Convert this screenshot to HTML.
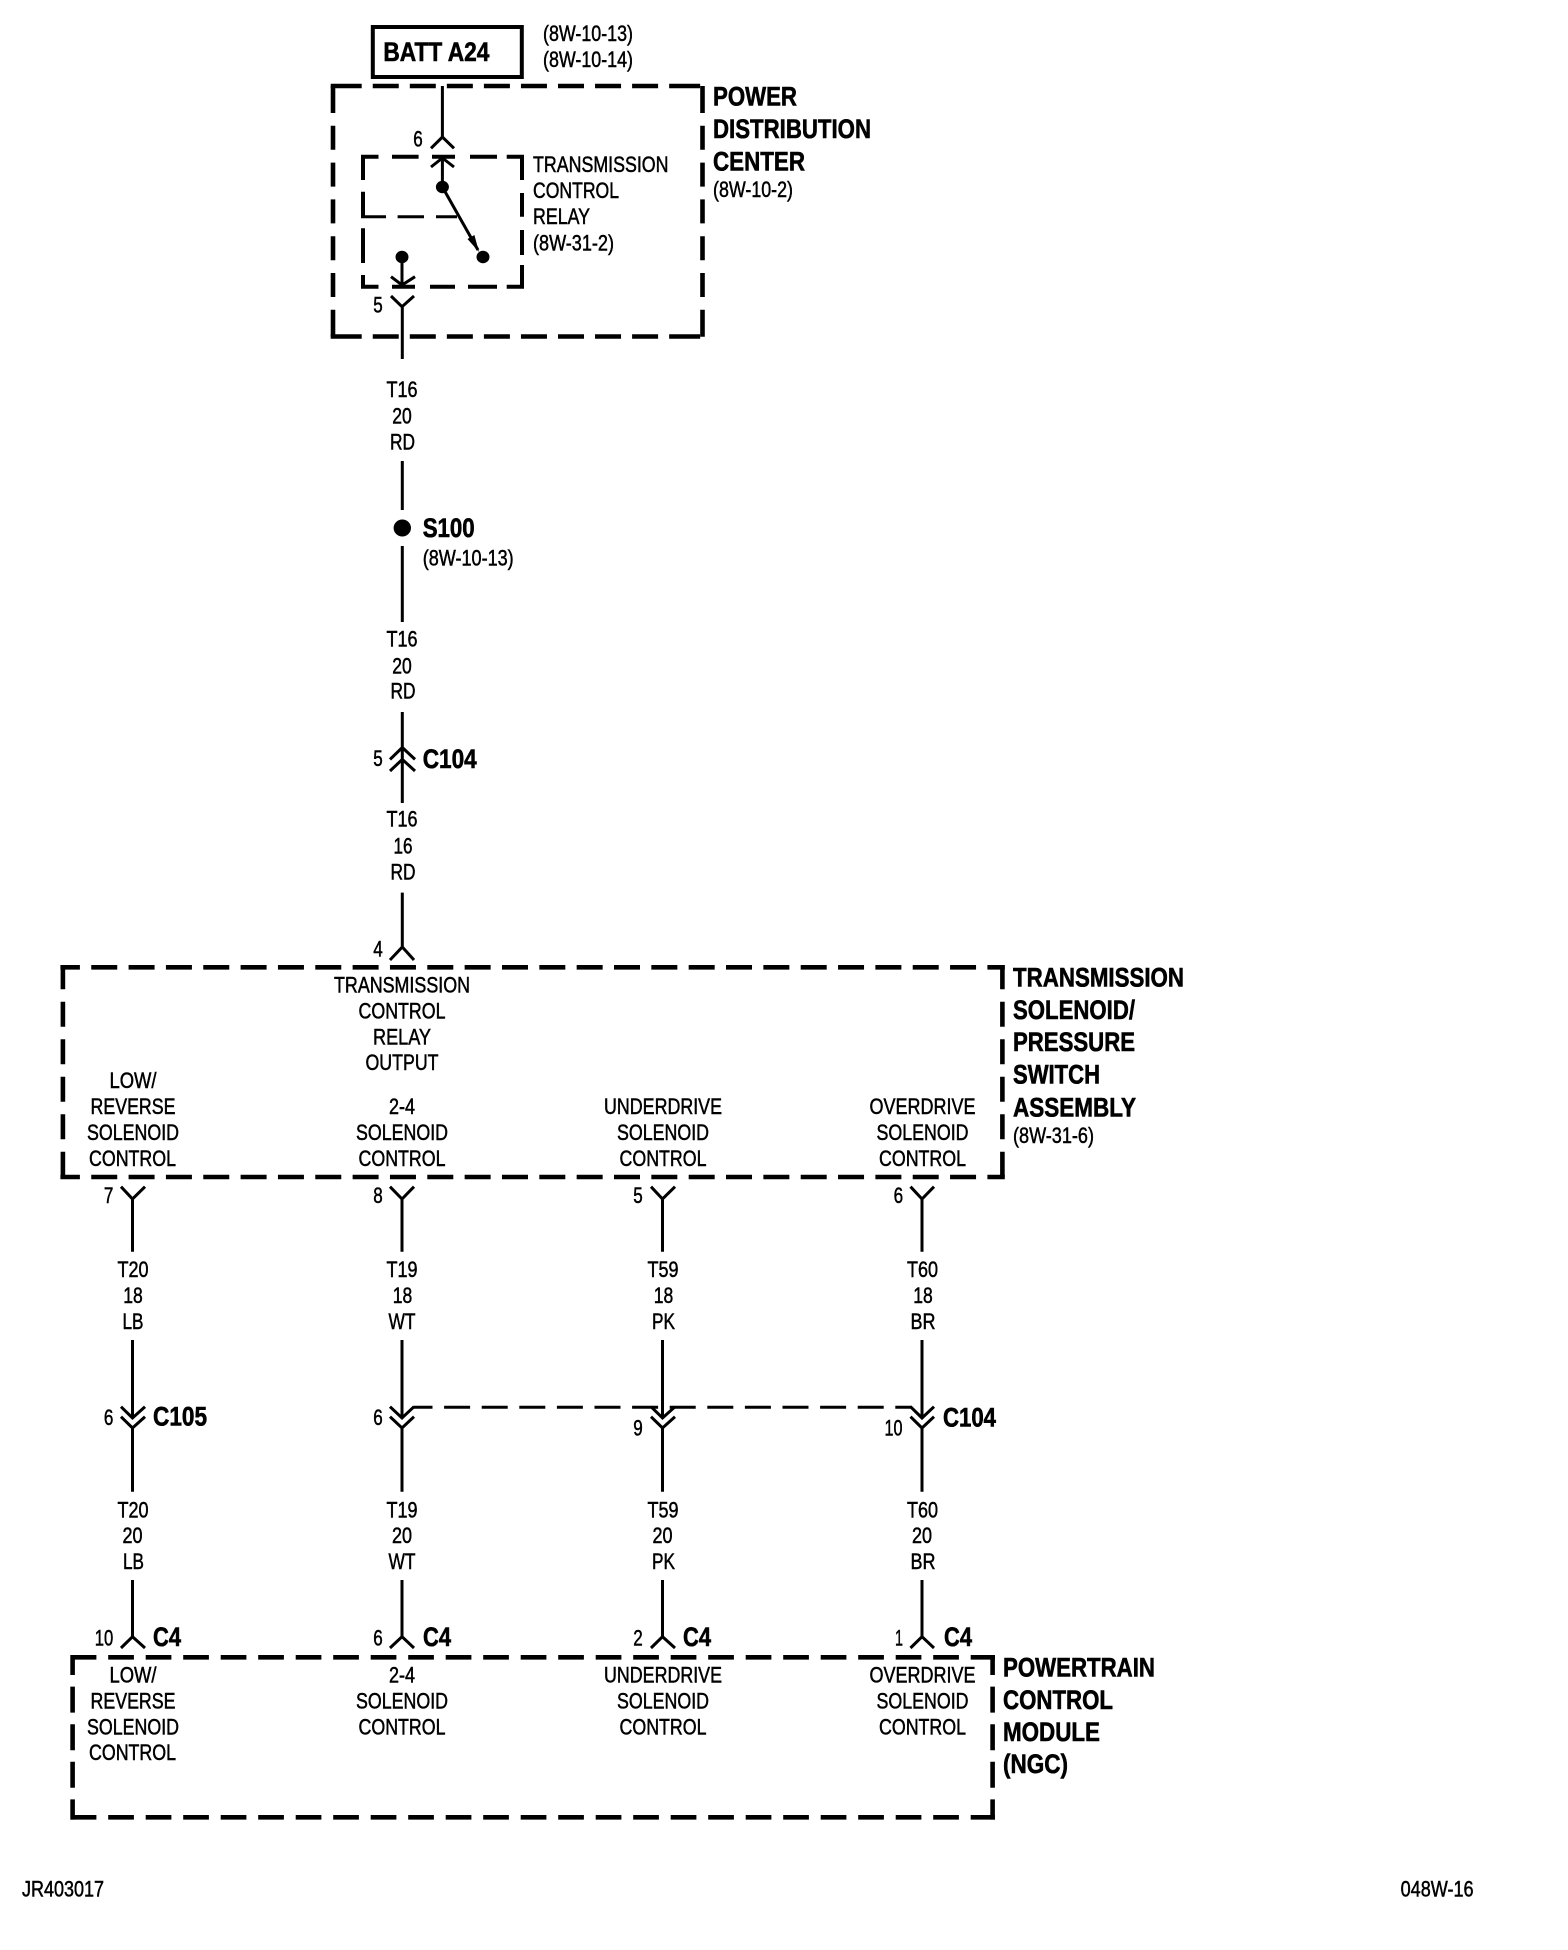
<!DOCTYPE html>
<html><head><meta charset="utf-8"><title>Wiring diagram</title>
<style>
html,body{margin:0;padding:0;background:#fff;width:1568px;height:1950px;overflow:hidden}
svg{display:block}
text{font-family:"Liberation Sans",Arial,sans-serif;font-size:22px;fill:#000;stroke:#000;stroke-width:.5;transform:translateY(-1px)}
.b{font-weight:bold;font-size:27px;stroke-width:.6}
.m{text-anchor:middle}
.w{fill:none;stroke:#000;stroke-width:3}
.d{fill:none;stroke:#000;stroke-width:4.6}
</style></head><body>
<svg xmlns="http://www.w3.org/2000/svg" width="1568" height="1950" viewBox="0 0 1568 1950">
<rect width="1568" height="1950" fill="#fff"/>

<!-- BATT -->
<rect x="372.8" y="27" width="149" height="50" fill="none" stroke="#000" stroke-width="4"/>
<text class="b" x="383.4" y="62" textLength="106" lengthAdjust="spacingAndGlyphs">BATT A24</text>
<text x="543" y="42" textLength="90" lengthAdjust="spacingAndGlyphs">(8W-10-13)</text>
<text x="543" y="68" textLength="90" lengthAdjust="spacingAndGlyphs">(8W-10-14)</text>

<!-- PDC box -->
<path class="d" stroke-dasharray="31 11.05 26 11.05 26 11.05 26 11.05 26 11.05 26 11.05 26 11.05 26 11.05 26 11.05 31 30" d="M330.7 86H704.8"/>
<path class="d" stroke-dasharray="31 11.05 26 11.05 26 11.05 26 11.05 26 11.05 26 11.05 26 11.05 26 11.05 26 11.05 31 30" d="M330.7 336.5H704.8"/>
<path class="d" stroke-dasharray="27 12.8 24 12.8 24 12.8 24 12.8 24 12.8 24 12.8 27 30" d="M333 86V336.7"/>
<path class="d" stroke-dasharray="27 12.8 24 12.8 24 12.8 24 12.8 24 12.8 24 12.8 27 30" d="M702.5 86V336.7"/>
<text class="b" x="713" y="106.7" textLength="84" lengthAdjust="spacingAndGlyphs">POWER</text>
<text class="b" x="713" y="139" textLength="158" lengthAdjust="spacingAndGlyphs">DISTRIBUTION</text>
<text class="b" x="713" y="171.7" textLength="92" lengthAdjust="spacingAndGlyphs">CENTER</text>
<text x="713" y="198" textLength="80" lengthAdjust="spacingAndGlyphs">(8W-10-2)</text>

<!-- Relay box -->
<path fill="none" stroke="#000" stroke-width="4" d="M361 156.7H378.5M392 156.7H418.6M432 156.7H455M470 156.7H497M506.7 156.7H524
M361 286.7H378.5M392 286.7H415M430 286.7H455M468 286.7H497M506.7 286.7H524
M363 155V180M363 191.7V218M363 228.3V263M363 275V288
M522 155V180M522 193V216.7M522 230V255M522 265V288"/>
<path fill="none" stroke="#000" stroke-width="3" d="M361 216.7H386M397.6 216.7H424M436 216.7H457"/>
<text x="533" y="173" textLength="135.5" lengthAdjust="spacingAndGlyphs">TRANSMISSION</text>
<text x="533" y="199" textLength="86" lengthAdjust="spacingAndGlyphs">CONTROL</text>
<text x="533" y="225" textLength="57" lengthAdjust="spacingAndGlyphs">RELAY</text>
<text x="533" y="251.7" textLength="81" lengthAdjust="spacingAndGlyphs">(8W-31-2)</text>

<!-- BATT wire and relay internals -->
<path class="w" d="M442.4 86V137M431 148.3L442.4 137L454 148.3M431 167L442.4 158L454 167M442.4 158V187"/>
<ellipse cx="442.4" cy="187" rx="6.5" ry="6.2"/>
<path class="w" d="M442.4 187L478 250"/>
<polygon points="479,252 474.4,235 467.5,239"/>
<ellipse cx="483" cy="257" rx="6.5" ry="6.2"/>
<ellipse cx="402" cy="257" rx="6.5" ry="6.2"/>
<path class="w" d="M402 257V285M391 276.7L402 285L415 276.7"/>
<path class="w" d="M391 296L402 306.7L414 296M402.3 306.7V359"/>
<text class="m" x="418" y="147.7" textLength="9.5" lengthAdjust="spacingAndGlyphs">6</text>
<text class="m" x="378" y="313.7" textLength="9.5" lengthAdjust="spacingAndGlyphs">5</text>

<!-- Trunk -->
<text class="m" x="402" y="397.8" textLength="31" lengthAdjust="spacingAndGlyphs">T16</text>
<text class="m" x="402" y="424.4" textLength="19.5" lengthAdjust="spacingAndGlyphs">20</text>
<text class="m" x="402.5" y="450.6" textLength="25" lengthAdjust="spacingAndGlyphs">RD</text>
<path class="w" d="M402.3 461V510M402.3 546V622"/>
<ellipse cx="402.3" cy="528" rx="8.7" ry="8.5"/>
<text class="b" x="422.7" y="538" textLength="52" lengthAdjust="spacingAndGlyphs">S100</text>
<text x="422.7" y="566.5" textLength="91" lengthAdjust="spacingAndGlyphs">(8W-10-13)</text>
<text class="m" x="402" y="647.5" textLength="31" lengthAdjust="spacingAndGlyphs">T16</text>
<text class="m" x="402" y="674.5" textLength="19.5" lengthAdjust="spacingAndGlyphs">20</text>
<text class="m" x="403" y="699.5" textLength="25" lengthAdjust="spacingAndGlyphs">RD</text>
<path class="w" d="M402.3 712V803M390 759.4L402.3 747.5L415 759.4M390 771L402.3 759.4L415 771"/>
<text class="m" x="378" y="767" textLength="9.5" lengthAdjust="spacingAndGlyphs">5</text>
<text class="b" x="422.7" y="769" textLength="54" lengthAdjust="spacingAndGlyphs">C104</text>
<text class="m" x="402" y="827.3" textLength="31" lengthAdjust="spacingAndGlyphs">T16</text>
<text class="m" x="403" y="854.3" textLength="19" lengthAdjust="spacingAndGlyphs">16</text>
<text class="m" x="403" y="880.3" textLength="25" lengthAdjust="spacingAndGlyphs">RD</text>
<path class="w" d="M402.3 892.6V947M390 960L402.3 947L414 960"/>
<text class="m" x="378" y="957.5" textLength="9.5" lengthAdjust="spacingAndGlyphs">4</text>

<!-- TS box -->
<path class="d" stroke-dasharray="26 11.34" stroke-dashoffset="6.5" d="M60.4 967.3H1004.8"/>
<path class="d" stroke-dasharray="26 11.34" stroke-dashoffset="6.5" d="M60.4 1177H1004.8"/>
<path class="d" stroke-dasharray="25 12.5" stroke-dashoffset=".7" d="M62.9 965V1179.3"/>
<path class="d" stroke-dasharray="25 12.5" stroke-dashoffset=".7" d="M1002.4 965V1179.3"/>

<text class="m" x="402" y="993.3" textLength="136" lengthAdjust="spacingAndGlyphs">TRANSMISSION</text>
<text class="m" x="402" y="1019.3" textLength="87" lengthAdjust="spacingAndGlyphs">CONTROL</text>
<text class="m" x="402" y="1045.3" textLength="58" lengthAdjust="spacingAndGlyphs">RELAY</text>
<text class="m" x="402" y="1071" textLength="73" lengthAdjust="spacingAndGlyphs">OUTPUT</text>

<text class="m" x="133" y="1089" textLength="47" lengthAdjust="spacingAndGlyphs">LOW/</text>
<text class="m" x="133" y="1115" textLength="85" lengthAdjust="spacingAndGlyphs">REVERSE</text>
<text class="m" x="133" y="1141" textLength="92" lengthAdjust="spacingAndGlyphs">SOLENOID</text>
<text class="m" x="132.5" y="1167" textLength="87" lengthAdjust="spacingAndGlyphs">CONTROL</text>
<text class="m" x="402" y="1115" textLength="26" lengthAdjust="spacingAndGlyphs">2-4</text>
<text class="m" x="402" y="1141" textLength="92" lengthAdjust="spacingAndGlyphs">SOLENOID</text>
<text class="m" x="402" y="1167" textLength="87" lengthAdjust="spacingAndGlyphs">CONTROL</text>
<text class="m" x="663" y="1115" textLength="118" lengthAdjust="spacingAndGlyphs">UNDERDRIVE</text>
<text class="m" x="663" y="1141" textLength="92" lengthAdjust="spacingAndGlyphs">SOLENOID</text>
<text class="m" x="663" y="1167" textLength="87" lengthAdjust="spacingAndGlyphs">CONTROL</text>
<text class="m" x="922.5" y="1115" textLength="106" lengthAdjust="spacingAndGlyphs">OVERDRIVE</text>
<text class="m" x="922.5" y="1141" textLength="92" lengthAdjust="spacingAndGlyphs">SOLENOID</text>
<text class="m" x="922.5" y="1167" textLength="87" lengthAdjust="spacingAndGlyphs">CONTROL</text>

<text class="b" x="1013" y="987.7" textLength="171" lengthAdjust="spacingAndGlyphs">TRANSMISSION</text>
<text class="b" x="1013" y="1020" textLength="122" lengthAdjust="spacingAndGlyphs">SOLENOID/</text>
<text class="b" x="1013" y="1052" textLength="122" lengthAdjust="spacingAndGlyphs">PRESSURE</text>
<text class="b" x="1013" y="1084.3" textLength="87" lengthAdjust="spacingAndGlyphs">SWITCH</text>
<text class="b" x="1013" y="1117.3" textLength="123" lengthAdjust="spacingAndGlyphs">ASSEMBLY</text>
<text x="1013" y="1144" textLength="81" lengthAdjust="spacingAndGlyphs">(8W-31-6)</text>

<!-- Column wires -->
<path class="w" d="M121 1186.7L132.5 1199L145 1186.7M132.5 1199V1251.7M132.5 1340V1418M121 1406.7L132.5 1418L145 1406.7M121 1416.7L132.5 1428L145 1416.7M132.5 1428V1491.7M132.5 1580V1636.7M121 1648L132.5 1636.7L145 1648"/>
<path class="w" d="M390 1186.7L402 1199L414 1186.7M402 1199V1251.7M402 1340V1418M390 1406.7L402 1418L414 1406.7M390 1416.7L402 1428L414 1416.7M402 1428V1491.7M402 1580V1636.7M390 1648L402 1636.7L414 1648"/>
<path class="w" d="M651 1186.7L662.5 1199L675 1186.7M662.5 1199V1251.7M662.5 1340V1418M651 1406.7L662.5 1418L675 1406.7M651 1416.7L662.5 1428L675 1416.7M662.5 1428V1491.7M662.5 1580V1636.7M651 1648L662.5 1636.7L675 1648"/>
<path class="w" d="M910.5 1186.7L922 1199L934 1186.7M922 1199V1251.7M922 1340V1418M910.5 1406.7L922 1418L934 1406.7M910.5 1416.7L922 1428L934 1416.7M922 1428V1491.7M922 1580V1636.7M910.5 1648L922 1636.7L934 1648"/>
<path fill="none" stroke="#000" stroke-width="3" stroke-dasharray="26 11.6" stroke-dashoffset="7" d="M413.5 1407.3H912"/>

<text class="m" x="108.6" y="1204" textLength="9.5" lengthAdjust="spacingAndGlyphs">7</text>
<text class="m" x="378" y="1204" textLength="9.5" lengthAdjust="spacingAndGlyphs">8</text>
<text class="m" x="638" y="1204" textLength="9.5" lengthAdjust="spacingAndGlyphs">5</text>
<text class="m" x="898.4" y="1204" textLength="9.5" lengthAdjust="spacingAndGlyphs">6</text>

<text class="m" x="133" y="1278" textLength="31" lengthAdjust="spacingAndGlyphs">T20</text>
<text class="m" x="133" y="1304" textLength="19.5" lengthAdjust="spacingAndGlyphs">18</text>
<text class="m" x="133" y="1330" textLength="21" lengthAdjust="spacingAndGlyphs">LB</text>
<text class="m" x="402" y="1278" textLength="31" lengthAdjust="spacingAndGlyphs">T19</text>
<text class="m" x="402.5" y="1304" textLength="19.5" lengthAdjust="spacingAndGlyphs">18</text>
<text class="m" x="402" y="1330" textLength="27" lengthAdjust="spacingAndGlyphs">WT</text>
<text class="m" x="663" y="1278" textLength="31" lengthAdjust="spacingAndGlyphs">T59</text>
<text class="m" x="663.5" y="1304" textLength="19.5" lengthAdjust="spacingAndGlyphs">18</text>
<text class="m" x="663.5" y="1330" textLength="23" lengthAdjust="spacingAndGlyphs">PK</text>
<text class="m" x="922.5" y="1278" textLength="31" lengthAdjust="spacingAndGlyphs">T60</text>
<text class="m" x="923" y="1304" textLength="19.5" lengthAdjust="spacingAndGlyphs">18</text>
<text class="m" x="923" y="1330" textLength="25" lengthAdjust="spacingAndGlyphs">BR</text>

<text class="m" x="108.6" y="1426" textLength="9.5" lengthAdjust="spacingAndGlyphs">6</text>
<text class="b" x="153" y="1426.7" textLength="54" lengthAdjust="spacingAndGlyphs">C105</text>
<text class="m" x="378" y="1426" textLength="9.5" lengthAdjust="spacingAndGlyphs">6</text>
<text class="m" x="638" y="1436.7" textLength="9.5" lengthAdjust="spacingAndGlyphs">9</text>
<text class="m" x="893.5" y="1436.7" textLength="18" lengthAdjust="spacingAndGlyphs">10</text>
<text class="b" x="943" y="1427.7" textLength="53" lengthAdjust="spacingAndGlyphs">C104</text>

<text class="m" x="133" y="1518.3" textLength="31" lengthAdjust="spacingAndGlyphs">T20</text>
<text class="m" x="132.5" y="1544" textLength="20" lengthAdjust="spacingAndGlyphs">20</text>
<text class="m" x="133.5" y="1570" textLength="21" lengthAdjust="spacingAndGlyphs">LB</text>
<text class="m" x="402" y="1518.3" textLength="31" lengthAdjust="spacingAndGlyphs">T19</text>
<text class="m" x="402" y="1544" textLength="20" lengthAdjust="spacingAndGlyphs">20</text>
<text class="m" x="402" y="1570" textLength="27" lengthAdjust="spacingAndGlyphs">WT</text>
<text class="m" x="663" y="1518.3" textLength="31" lengthAdjust="spacingAndGlyphs">T59</text>
<text class="m" x="662.5" y="1544" textLength="20" lengthAdjust="spacingAndGlyphs">20</text>
<text class="m" x="663.5" y="1570" textLength="23" lengthAdjust="spacingAndGlyphs">PK</text>
<text class="m" x="922.5" y="1518.3" textLength="31" lengthAdjust="spacingAndGlyphs">T60</text>
<text class="m" x="922" y="1544" textLength="20" lengthAdjust="spacingAndGlyphs">20</text>
<text class="m" x="923" y="1570" textLength="25" lengthAdjust="spacingAndGlyphs">BR</text>

<text class="m" x="104" y="1646.7" textLength="18.5" lengthAdjust="spacingAndGlyphs">10</text>
<text class="b" x="153" y="1647" textLength="28" lengthAdjust="spacingAndGlyphs">C4</text>
<text class="m" x="378" y="1646.7" textLength="9.5" lengthAdjust="spacingAndGlyphs">6</text>
<text class="b" x="423" y="1647" textLength="28" lengthAdjust="spacingAndGlyphs">C4</text>
<text class="m" x="638" y="1646.7" textLength="9.5" lengthAdjust="spacingAndGlyphs">2</text>
<text class="b" x="683" y="1647" textLength="28" lengthAdjust="spacingAndGlyphs">C4</text>
<text class="m" x="899" y="1646.7" textLength="8" lengthAdjust="spacingAndGlyphs">1</text>
<text class="b" x="944" y="1647" textLength="28" lengthAdjust="spacingAndGlyphs">C4</text>

<!-- PCM box -->
<path class="d" stroke-dasharray="25.7 11.8" stroke-dashoffset="-.5" d="M70.2 1657.3H995"/>
<path class="d" stroke-dasharray="25.7 11.8" stroke-dashoffset="-.5" d="M70.2 1817.3H995"/>
<path class="d" stroke-dasharray="26 11.6" stroke-dashoffset="6" d="M72.6 1655V1819.6"/>
<path class="d" stroke-dasharray="26 11.6" stroke-dashoffset="6" d="M992.6 1655V1819.6"/>

<text class="m" x="133" y="1683.3" textLength="47" lengthAdjust="spacingAndGlyphs">LOW/</text>
<text class="m" x="133" y="1709.3" textLength="85" lengthAdjust="spacingAndGlyphs">REVERSE</text>
<text class="m" x="133" y="1735.3" textLength="92" lengthAdjust="spacingAndGlyphs">SOLENOID</text>
<text class="m" x="132.5" y="1761" textLength="87" lengthAdjust="spacingAndGlyphs">CONTROL</text>
<text class="m" x="402" y="1683.3" textLength="26" lengthAdjust="spacingAndGlyphs">2-4</text>
<text class="m" x="402" y="1709.3" textLength="92" lengthAdjust="spacingAndGlyphs">SOLENOID</text>
<text class="m" x="402" y="1735.3" textLength="87" lengthAdjust="spacingAndGlyphs">CONTROL</text>
<text class="m" x="663" y="1683.3" textLength="118" lengthAdjust="spacingAndGlyphs">UNDERDRIVE</text>
<text class="m" x="663" y="1709.3" textLength="92" lengthAdjust="spacingAndGlyphs">SOLENOID</text>
<text class="m" x="663" y="1735.3" textLength="87" lengthAdjust="spacingAndGlyphs">CONTROL</text>
<text class="m" x="922.5" y="1683.3" textLength="106" lengthAdjust="spacingAndGlyphs">OVERDRIVE</text>
<text class="m" x="922.5" y="1709.3" textLength="92" lengthAdjust="spacingAndGlyphs">SOLENOID</text>
<text class="m" x="922.5" y="1735.3" textLength="87" lengthAdjust="spacingAndGlyphs">CONTROL</text>

<text class="b" x="1003" y="1677.3" textLength="152" lengthAdjust="spacingAndGlyphs">POWERTRAIN</text>
<text class="b" x="1003" y="1710" textLength="110" lengthAdjust="spacingAndGlyphs">CONTROL</text>
<text class="b" x="1003" y="1742" textLength="97" lengthAdjust="spacingAndGlyphs">MODULE</text>
<text class="b" x="1003" y="1774" textLength="65" lengthAdjust="spacingAndGlyphs">(NGC)</text>

<text x="22" y="1897.5" textLength="82" lengthAdjust="spacingAndGlyphs">JR403017</text>
<text x="1400.6" y="1897.7" textLength="73" lengthAdjust="spacingAndGlyphs">048W-16</text>
</svg>
</body></html>
